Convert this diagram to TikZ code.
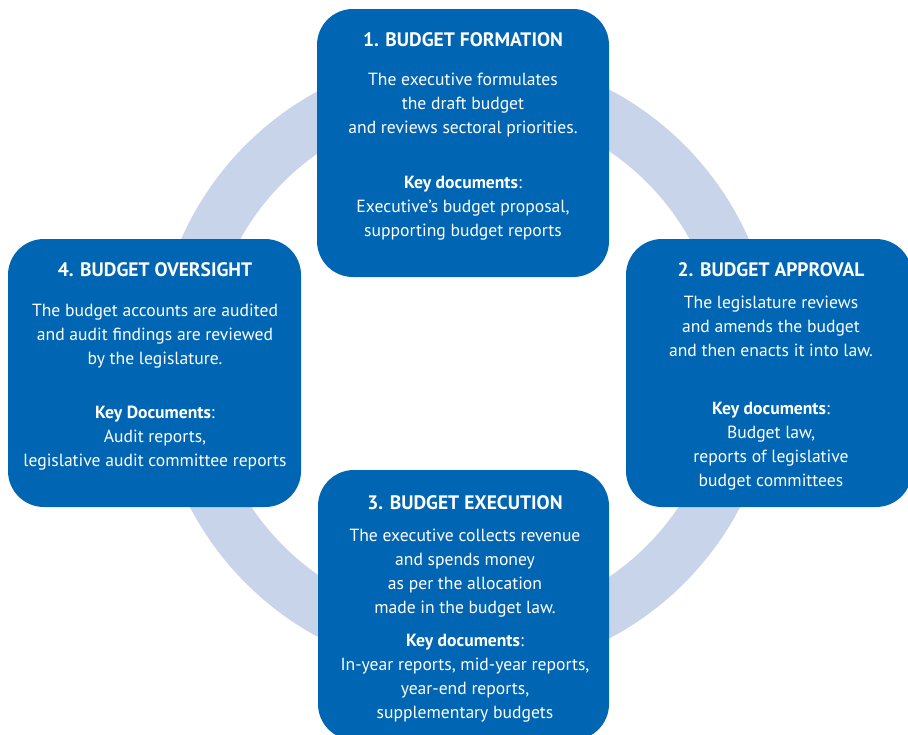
\documentclass[tikz,border=0pt]{standalone}
\usepackage{fontspec}
\setmainfont{PT Sans}
\definecolor{boxblue}{HTML}{0066B3}
\definecolor{ringblue}{HTML}{C8D4EA}
\begin{document}
\begin{tikzpicture}[x=1pt,y=-1pt,
  stagebox/.style={fill=boxblue, rounded corners=36pt, inner sep=0pt},
  stagetitle/.style={text=white, inner sep=0pt, anchor=base,
    font=\fontsize{19.5}{22}\selectfont\bfseries},
  stagetext/.style={text=white, inner sep=0pt, anchor=north, align=center,
    font=\fontsize{17.6}{24}\selectfont},
]
\useasboundingbox (0,0) rectangle (908,734);
\clip (0,0) rectangle (908,734);

% cycle ring behind the four stages
\draw[ringblue, line width=53pt] (465,364) circle[radius=283.5pt];

% stage boxes
\node[stagebox, minimum width=292pt, minimum height=268pt] (formation) at (463,143) {};
\node[stagebox, minimum width=293pt, minimum height=268pt] (oversight) at (154.5,373) {};
\node[stagebox, minimum width=286pt, minimum height=268pt] (approval) at (769,373) {};
\node[stagebox, minimum width=291pt, minimum height=270pt] (execution) at (463.5,605) {};

% 1. formation
\node[stagetitle] (formationtitle) at (463,46) {1. BUDGET FORMATION};
\node[stagetext] (formationbody) at (463,73) {The executive formulates\\the draft budget\\and reviews sectoral priorities.};
\node[stagetext] (formationdocs) at (463,176) {\textbf{Key documents}:\\Executive’s budget proposal,\\supporting budget reports};

% 4. oversight
\node[stagetitle] (oversighttitle) at (155,276) {4. BUDGET OVERSIGHT};
\node[stagetext] (oversightbody) at (155,304) {The budget accounts are audited\\and audit findings are reviewed\\by the legislature.};
\node[stagetext] (oversightdocs) at (155,406) {\textbf{Key Documents}:\\Audit reports,\\legislative audit committee reports};

% 2. approval
\node[stagetitle] (approvaltitle) at (771,276) {2. BUDGET APPROVAL};
\node[stagetext] (approvalbody) at (771,296) {The legislature reviews\\and amends the budget\\and then enacts it into law.};
\node[stagetext] (approvaldocs) at (771,402) {\textbf{Key documents}:\\Budget law,\\reports of legislative\\budget committees};

% 3. execution
\node[stagetitle] (executiontitle) at (465,509) {3. BUDGET EXECUTION};
\node[stagetext] (executionbody) at (465,529) {The executive collects revenue\\and spends money\\as per the allocation\\made in the budget law.};
\node[stagetext] (executiondocs) at (465,634) {\textbf{Key documents}:\\In-year reports, mid-year reports,\\year-end reports,\\supplementary budgets};
\end{tikzpicture}
\end{document}
